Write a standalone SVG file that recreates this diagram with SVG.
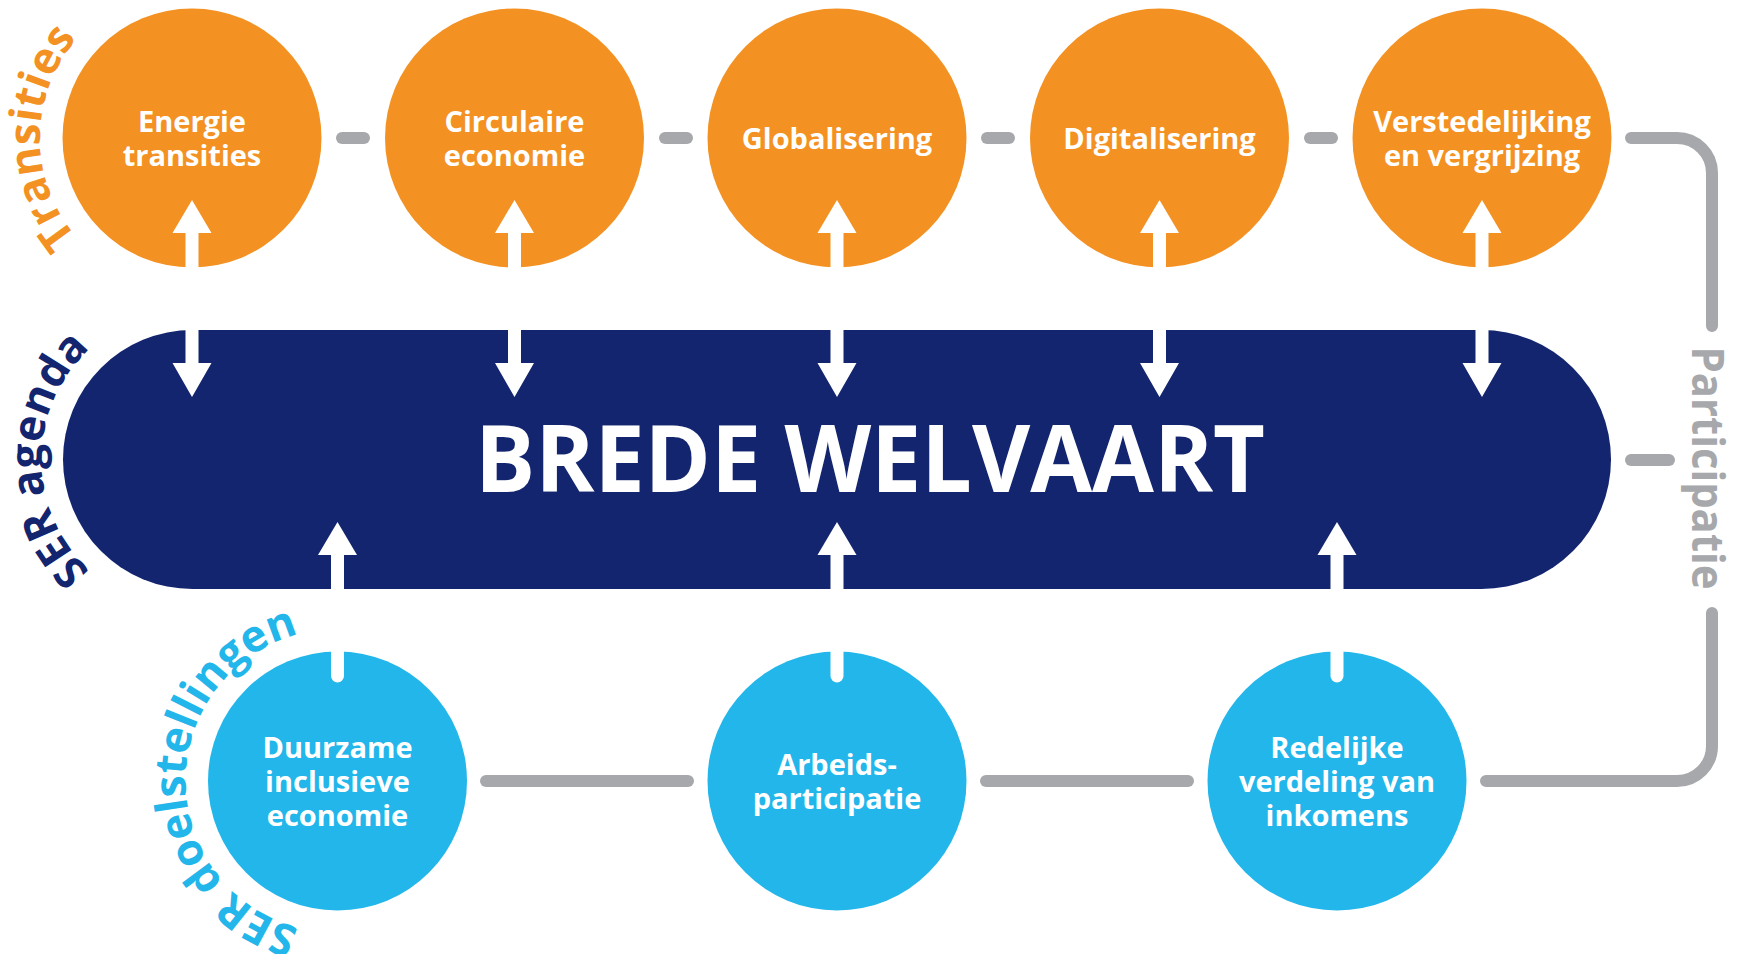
<svg xmlns="http://www.w3.org/2000/svg" width="1740" height="954" viewBox="0 0 1740 954">
<style>
.or{fill:#F39122}
.nv{fill:#13256E}
.cy{fill:#22B6EA}
.lbl{font-family:"Open Sans","Noto Sans",sans-serif;font-weight:700;font-size:29px;fill:#fff;text-anchor:middle}
.conn{stroke:#A6A8AB;stroke-width:12;stroke-linecap:round;fill:none}
.arr{fill:#fff}
.shaft{stroke:#fff;stroke-width:13;fill:none}
.curve{font-family:"Open Sans","Noto Sans",sans-serif;font-weight:700;font-size:44px}
</style>
<defs>
<path id="arcT" d="M192,290 A152,152 0 0 1 192,-14"/>
<path id="arcA" d="M192.5,610.5 A151,151 0 0 1 192.5,308.5"/>
<path id="arcD" d="M337.5,933 A152,152 0 0 1 337.5,629"/>
</defs>

<g id="connectors">
<line class="conn" x1="342" y1="138" x2="364" y2="138"/>
<line class="conn" x1="665" y1="138" x2="687" y2="138"/>
<line class="conn" x1="987" y1="138" x2="1009" y2="138"/>
<line class="conn" x1="1310" y1="138" x2="1332" y2="138"/>
<path class="conn" d="M1631,138 H1677 A35,35 0 0 1 1712,173 V326"/>
<line class="conn" x1="1631" y1="460" x2="1669" y2="460"/>
<path class="conn" d="M1712,613 V746 A35,35 0 0 1 1677,781 H1486"/>
<line class="conn" x1="486" y1="781" x2="688" y2="781"/>
<line class="conn" x1="986" y1="781" x2="1188" y2="781"/>
</g>

<g id="brede-welvaart">
<rect class="nv" x="63" y="330" width="1548" height="259" rx="129.5" ry="129.5"/>
<text x="870" y="492" font-family="Open Sans, Noto Sans, sans-serif" font-weight="700" font-size="94" fill="#fff" text-anchor="middle" textLength="790" lengthAdjust="spacingAndGlyphs">BREDE WELVAART</text>
</g>

<g id="energie">
<circle class="or" cx="192" cy="138" r="129.5"/>
<text class="lbl" x="192" y="132">Energie</text>
<text class="lbl" x="192" y="166">transities</text>
</g>
<g id="circulaire">
<circle class="or" cx="514.5" cy="138" r="129.5"/>
<text class="lbl" x="514.5" y="132">Circulaire</text>
<text class="lbl" x="514.5" y="166">economie</text>
</g>
<g id="globalisering">
<circle class="or" cx="837" cy="138" r="129.5"/>
<text class="lbl" x="837" y="149">Globalisering</text>
</g>
<g id="digitalisering">
<circle class="or" cx="1159.5" cy="138" r="129.5"/>
<text class="lbl" x="1159.5" y="149">Digitalisering</text>
</g>
<g id="verstedelijking">
<circle class="or" cx="1482" cy="138" r="129.5"/>
<text class="lbl" x="1482" y="132">Verstedelijking</text>
<text class="lbl" x="1482" y="166">en vergrijzing</text>
</g>

<g id="duurzame">
<circle class="cy" cx="337.5" cy="781" r="129.5"/>
<text class="lbl" x="337.5" y="758">Duurzame</text>
<text class="lbl" x="337.5" y="792">inclusieve</text>
<text class="lbl" x="337.5" y="826">economie</text>
</g>
<g id="arbeidsparticipatie">
<circle class="cy" cx="837" cy="781" r="129.5"/>
<text class="lbl" x="837" y="775">Arbeids-</text>
<text class="lbl" x="837" y="809">participatie</text>
</g>
<g id="redelijke">
<circle class="cy" cx="1337" cy="781" r="129.5"/>
<text class="lbl" x="1337" y="758">Redelijke</text>
<text class="lbl" x="1337" y="792">verdeling van</text>
<text class="lbl" x="1337" y="826">inkomens</text>
</g>

<g id="arrows">
<g id="arrows-top">
<path class="arr" d="M192,200 L211.5,233 H198.5 V363 H211.5 L192,397 L172.5,363 H185.5 V233 H172.5 Z"/>
<path class="arr" d="M514.5,200 L534,233 H521 V363 H534 L514.5,397 L495,363 H508 V233 H495 Z"/>
<path class="arr" d="M837,200 L856.5,233 H843.5 V363 H856.5 L837,397 L817.5,363 H830.5 V233 H817.5 Z"/>
<path class="arr" d="M1159.5,200 L1179,233 H1166 V363 H1179 L1159.5,397 L1140,363 H1153 V233 H1140 Z"/>
<path class="arr" d="M1482,200 L1501.5,233 H1488.5 V363 H1501.5 L1482,397 L1462.5,363 H1475.5 V233 H1462.5 Z"/>
</g>
<g id="arrows-bottom">
<path class="arr" d="M337.5,522 L357,555 H318 Z"/>
<line class="shaft" x1="337.5" y1="554" x2="337.5" y2="676" stroke-linecap="round"/>
<path class="arr" d="M837,522 L856.5,555 H817.5 Z"/>
<line class="shaft" x1="837" y1="554" x2="837" y2="676" stroke-linecap="round"/>
<path class="arr" d="M1337,522 L1356.5,555 H1317.5 Z"/>
<line class="shaft" x1="1337" y1="554" x2="1337" y2="676" stroke-linecap="round"/>
</g>
</g>

<g id="labels">
<text class="curve" fill="#F39122"><textPath href="#arcT" startOffset="50%" text-anchor="middle">Transities</textPath></text>
<text class="curve" fill="#13256E"><textPath href="#arcA" startOffset="50%" text-anchor="middle">SER agenda</textPath></text>
<text class="curve" fill="#22B6EA"><textPath href="#arcD" startOffset="50%" text-anchor="middle">SER doelstellingen</textPath></text>
<text class="curve" fill="#A6A8AB" transform="translate(1692,468) rotate(90)" text-anchor="middle" textLength="243" lengthAdjust="spacingAndGlyphs">Participatie</text>
</g>
</svg>
